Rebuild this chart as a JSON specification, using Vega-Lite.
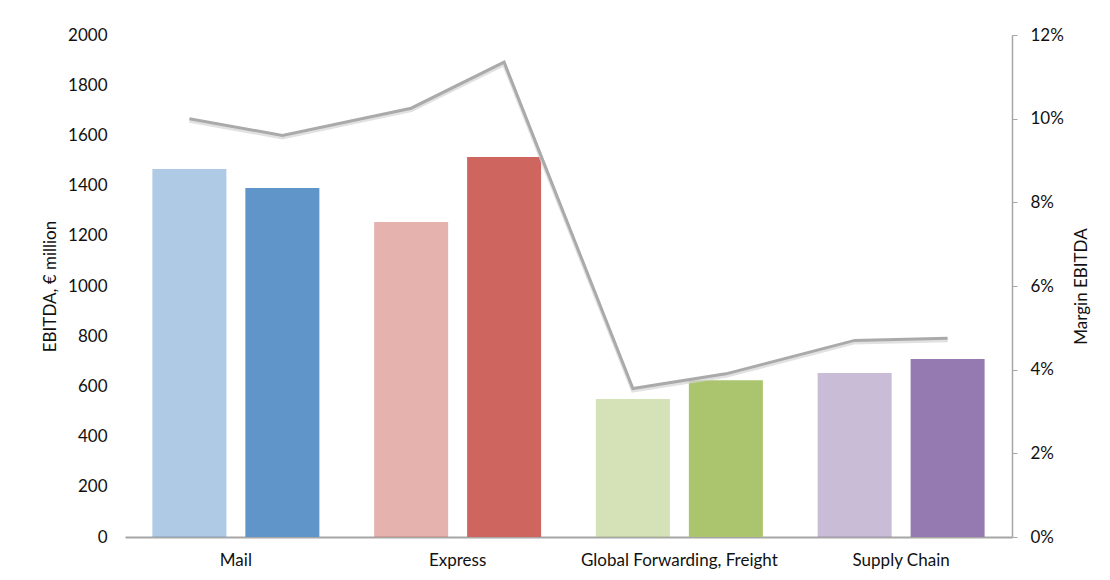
{
  "$schema": "https://vega.github.io/schema/vega-lite/v6.json",
  "width": 887,
  "height": 502,
  "autosize": {"type": "none"},
  "padding": {"left": 125, "top": 35, "right": 98, "bottom": 43},
  "background": "white",
  "config": {
    "font": "Lato",
    "view": {"stroke": null},
    "axis": {
      "labelFont": "Lato",
      "titleFont": "Lato",
      "labelFontSize": 17,
      "titleFontSize": 17,
      "titleFontWeight": "normal",
      "labelColor": "#111111",
      "titleColor": "#111111",
      "labelLimit": 0,
      "grid": false
    }
  },
  "data": {
    "values": [
      {"n": 1, "segment": "Mail", "period": "prior", "ebitda": 1466, "margin": 0.100},
      {"n": 2, "segment": "Mail", "period": "current", "ebitda": 1390, "margin": 0.096},
      {"n": 3, "segment": "Express", "period": "prior", "ebitda": 1255, "margin": 0.1025},
      {"n": 4, "segment": "Express", "period": "current", "ebitda": 1514, "margin": 0.1135},
      {"n": 5, "segment": "Global Forwarding, Freight", "period": "prior", "ebitda": 550, "margin": 0.0355},
      {"n": 6, "segment": "Global Forwarding, Freight", "period": "current", "ebitda": 625, "margin": 0.039},
      {"n": 7, "segment": "Supply Chain", "period": "prior", "ebitda": 653, "margin": 0.047},
      {"n": 8, "segment": "Supply Chain", "period": "current", "ebitda": 709, "margin": 0.0475}
    ]
  },
  "encoding": {
    "x": {
      "field": "segment",
      "type": "nominal",
      "sort": null,
      "scale": {"paddingInner": 0.247, "paddingOuter": 0.1235},
      "axis": {
        "title": null,
        "labelAngle": 0,
        "ticks": false,
        "labelPadding": 15,
        "domainColor": "#a6a6a6",
        "domainWidth": 2
      }
    },
    "xOffset": {
      "field": "period",
      "type": "nominal",
      "sort": ["prior", "current"],
      "scale": {"paddingInner": 0.204}
    }
  },
  "layer": [
    {
      "mark": {"type": "bar"},
      "encoding": {
        "y": {
          "field": "ebitda",
          "type": "quantitative",
          "scale": {"domain": [0, 2000]},
          "axis": {
            "title": "EBITDA, € million",
            "format": "d",
            "values": [0, 200, 400, 600, 800, 1000, 1200, 1400, 1600, 1800, 2000],
            "domain": false,
            "ticks": false,
            "labelPadding": 18,
            "titlePadding": 8
          }
        },
        "color": {
          "field": "segment",
          "type": "nominal",
          "sort": null,
          "scale": {
            "domain": ["Mail", "Express", "Global Forwarding, Freight", "Supply Chain"],
            "range": ["#6095c9", "#ce655e", "#abc46e", "#947ab0"]
          },
          "legend": null
        },
        "opacity": {
          "field": "period",
          "type": "nominal",
          "scale": {"domain": ["prior", "current"], "range": [0.5, 1]},
          "legend": null
        }
      }
    },
    {
      "encoding": {
        "y": {
          "field": "margin",
          "type": "quantitative",
          "scale": {"domain": [0, 0.12]},
          "axis": {
            "orient": "right",
            "title": "Margin EBITDA",
            "titleAngle": 270,
            "format": ".0%",
            "values": [0, 0.02, 0.04, 0.06, 0.08, 0.1, 0.12],
            "domainColor": "#a6a6a6",
            "domainWidth": 1.5,
            "tickColor": "#a6a6a6",
            "tickSize": 5,
            "labelPadding": 13,
            "titlePadding": 27
          }
        },
        "order": {"field": "n", "type": "quantitative"}
      },
      "layer": [
        {
          "mark": {"type": "line", "color": "#d4d4d4", "strokeWidth": 4, "opacity": 0.7, "yOffset": 2}
        },
        {
          "mark": {"type": "line", "color": "#aaaaaa", "strokeWidth": 3}
        }
      ]
    }
  ],
  "resolve": {"scale": {"y": "independent"}}
}
